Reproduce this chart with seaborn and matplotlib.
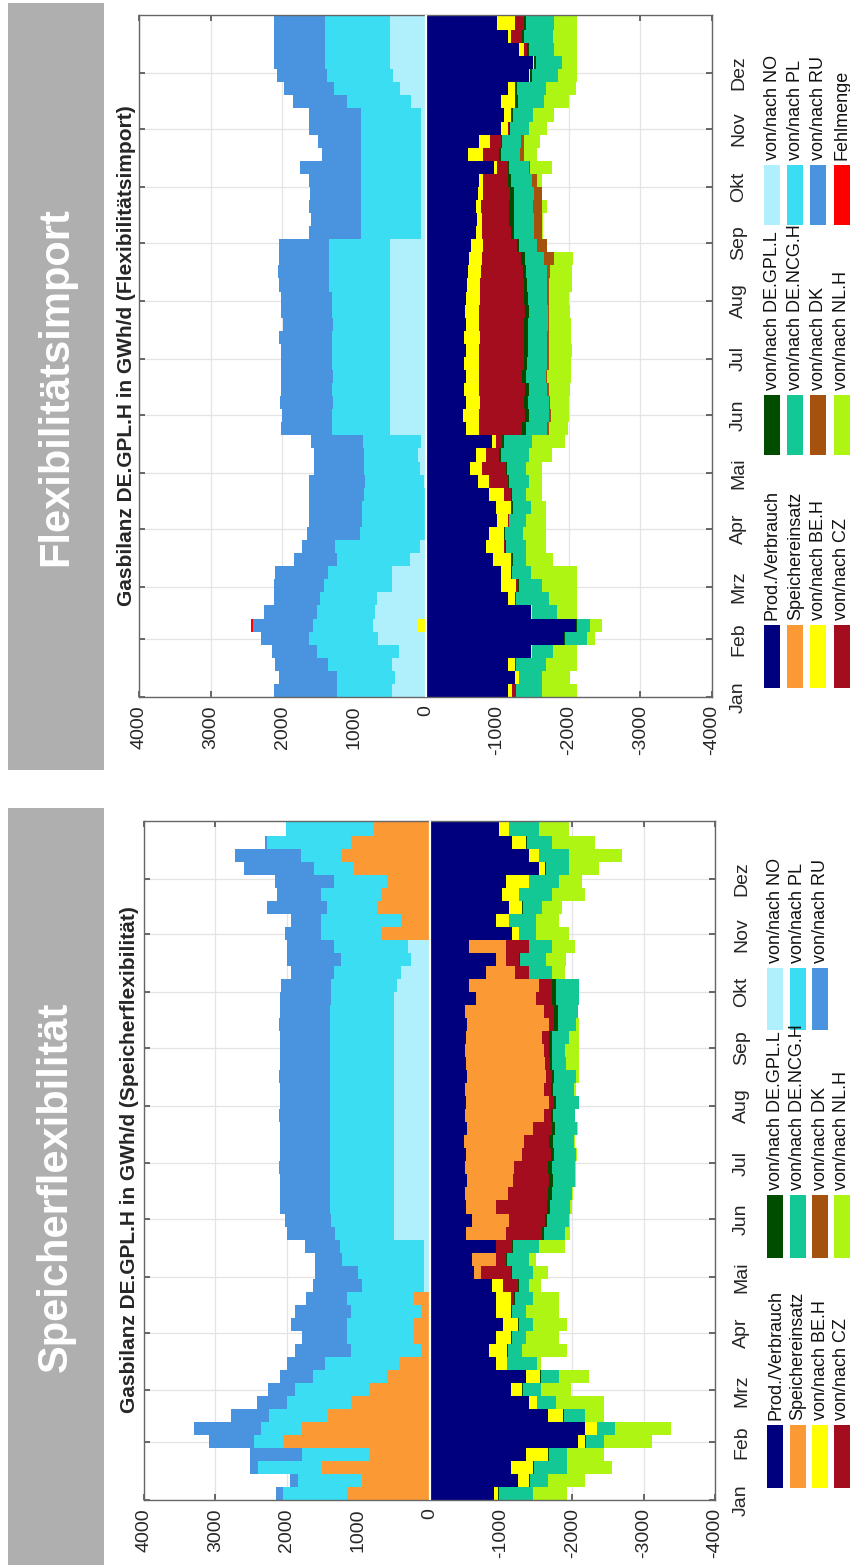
import numpy as np
import matplotlib
matplotlib.use("Agg")
import matplotlib.pyplot as plt
import seaborn as sns
from matplotlib.patches import Rectangle

# ---------------- data (weekly values, GWh/d) ----------------
month_days = [0, 31, 59, 90, 120, 151, 181, 212, 243, 273, 304, 334]
month_labels = ["Jan", "Feb", "Mrz", "Apr", "Mai", "Jun", "Jul", "Aug", "Sep", "Okt", "Nov", "Dez"]
value_ticks = [4000, 3000, 2000, 1000, 0, -1000, -2000, -3000, -4000]

legend_labels = ["Prod./Verbrauch", "Speichereinsatz", "von/nach BE.H", "von/nach CZ",
                 "von/nach DE.GPL.L", "von/nach DE.NCG.H", "von/nach DK", "von/nach NL.H",
                 "von/nach NO", "von/nach PL", "von/nach RU", "Fehlmenge"]
colors = ["#00007F", "#FB9934", "#FFFF00", "#A30D1E", "#004D00", "#14C896", "#A5520F",
          "#AEF514", "#B0F0FC", "#3ADDF2", "#4A93DE", "#FF0000"]

# --- Flexibilitaetsimport (upper panel) ---
imp_prod = [-1150, -1250, -1150, -1470, -1940, -2100, -1470, -1150, -1050, -1050,
            -940, -840, -890, -1000, -980, -890, -730, -620, -700, -930,
            -560, -520, -560, -540, -560, -540, -560, -540, -560, -550,
            -560, -580, -600, -610, -640, -700, -720, -700, -730, -740,
            -950, -600, -750, -1050, -1100, -1050, -1150, -1450, -1500, -1300, -1150, -1000]
imp_speicher = [0] * 52
imp_be = [-60, -50, -100, -10, 0, 100, -10, -100, -210, -150,
          -260, -260, -210, -150, -220, -210, -150, -170, -140, -50,
          -190, -220, -200, -200, -190, -200, -190, -220, -180, -200,
          -200, -180, -180, -180, -160, -90, -70, -80, -70, -60,
          -50, -200, -150, -100, -100, -200, -100, -10, -20, -80, -50, -250]
imp_cz = [-50, 0, -10, 0, 0, 0, 0, -10, -30, 0,
          -10, -10, 0, -10, -10, -100, -270, -330, -190, -90,
          -600, -650, -620, -650, -600, -630, -630, -620, -640, -640,
          -620, -610, -580, -550, -480, -410, -380, -380, -380, -350,
          -150, -230, -150, -10, -10, -20, -10, 0, 0, -40, -150, -130]
imp_gpll = [-10, -10, -10, -10, -10, -10, -10, -10, -10, -10,
            -10, -10, -10, -10, -10, -10, -10, -20, -20, -20,
            -50, -50, -50, -50, -50, -50, -50, -50, -50, -50,
            -50, -50, -50, -50, -30, -40, -60, -70, -50, -50,
            -10, -20, -20, -20, -10, -20, -20, -20, -20, -20, -20, -20]
imp_ncg = [-350, -310, -410, -290, -300, -190, -340, -460, -320, -260,
           -190, -290, -250, -230, -250, -200, -290, -260, -390, -400,
           -300, -290, -290, -260, -280, -280, -270, -270, -280, -270,
           -270, -280, -280, -270, -250, -270, -280, -270, -290, -280,
           -280, -270, -270, -270, -280, -360, -400, -370, -360, -360, -410, -400]
imp_dk = [0, 0, 0, 0, 0, 0, 0, 0, 0, 0,
          0, 0, 0, 0, 0, 0, 0, -10, 0, 0,
          -20, -20, -20, -20, -20, -20, -30, -20, -20, -20,
          -20, -20, -50, -140, -140, -120, -120, -120, -100, -80,
          -20, -60, -40, 0, 0, 0, 0, 0, 0, 0, 0, 0]
imp_nl = [-500, -400, -440, -340, -110, -160, -290, -390, -500, -650,
          -370, -270, -320, -280, -210, -220, -180, -220, -330, -460,
          -270, -250, -270, -300, -330, -310, -310, -310, -300, -290,
          -290, -320, -310, -260, 0, -10, -10, -80, -10, -60,
          -310, -170, -220, -250, -300, -350, -420, -260, -220, -320, -340, -320]
imp_no = [470, 420, 470, 370, 660, 630, 700, 680, 470, 470,
          210, 80, 0, 0, 0, 0, 20, 80, 100, 60,
          490, 490, 490, 490, 490, 490, 490, 490, 490, 490,
          490, 490, 490, 490, 490, 60, 60, 60, 60, 60,
          60, 60, 60, 60, 60, 200, 350, 450, 490, 490, 490, 490]
imp_pl = [760, 810, 890, 1150, 960, 840, 820, 790, 950, 890,
          1020, 1180, 920, 890, 890, 860, 820, 780, 760, 810,
          810, 820, 800, 810, 800, 820, 810, 810, 800, 810,
          810, 860, 860, 860, 860, 840, 840, 840, 840, 840,
          840, 840, 840, 840, 840, 900, 930, 920, 920, 920, 920, 920]
imp_ru = [890, 820, 740, 630, 680, 840, 730, 650, 700, 740,
          600, 470, 730, 730, 730, 760, 780, 700, 700, 730,
          720, 700, 740, 720, 730, 710, 720, 740, 700, 720,
          720, 700, 710, 690, 700, 720, 700, 720, 710, 720,
          850, 550, 600, 720, 720, 750, 690, 700, 700, 700, 700, 700]
imp_fehl = [0, 0, 0, 0, 0, 30] + [0] * 46

# --- Speicherflexibilitaet (lower panel) ---
sp_prod = [-900, -1240, -1140, -1350, -2080, -2180, -1660, -1400, -1140, -1350,
           -930, -830, -930, -1030, -930, -930, -880, -620, -600, -930,
           -510, -600, -510, -500, -520, -500, -510, -490, -520, -500,
           -510, -500, -520, -510, -500, -510, -520, -500, -650, -550,
           -790, -930, -550, -1160, -930, -1110, -1020, -1070, -1530, -1390, -1160, -970]
sp_speicher = [1160, 950, 1500, 850, 2050, 1790, 1420, 1100, 850, 590,
               430, 120, 220, 220, 120, 220, 0, -100, -330, 0,
               -560, -510, -420, -600, -650, -690, -790, -830, -930, -1110,
               -1160, -1110, -1110, -1110, -1110, -1070, -1160, -1110, -840, -980,
               -410, -140, -520, 680, 400, 730, 680, 590, 1060, 1240, 1100, 780]
sp_be = [-60, -160, -310, -310, -100, -160, -210, -100, -160, -200,
         -150, -260, -210, -210, -210, -210, -150, 0, 0, 0,
         0, 0, 0, 0, 0, 0, 0, 0, 0, 0,
         0, 0, 0, 0, 0, 0, 0, 0, 0, 0,
         0, 0, 0, -90, -180, -190, -230, -320, -90, -140, -190, -140]
sp_cz = [0, 0, 0, 0, 0, 0, 0, 0, 0, 0,
         0, 0, 0, 0, 0, -50, -210, -420, -140, -230,
         -510, -510, -720, -560, -510, -470, -400, -360, -260, -90,
         -70, -90, -90, -70, -70, -90, -70, -140, -230, -190,
         -190, -190, -320, 0, 0, 0, 0, 0, 0, 0, 0, 0]
sp_gpll = [-10] * 20 + [-20, -30, -40, -50, -50, -50, -45, -45, -50, -30,
                        -30, -25, -25, -30, -30, -50, -50, -50, -50, -50] + [-10] * 12
sp_ncg = [-480, -250, -460, -250, -250, -250, -300, -260, -250, -250,
          -410, -200, -200, -200, -200, -250, -150, -300, -320, -360,
          -300, -300, -280, -280, -310, -330, -305, -305, -305, -305,
          -320, -305, -305, -190, -190, -230, -250, -280, -330, -330,
          -320, -360, -320, -230, -370, -270, -460, -410, -320, -410, -360, -410]
sp_dk = [0] * 52
sp_nl = [-470, -520, -630, -520, -680, -780, -260, -680, -420, -420,
         -60, -620, -470, -470, -470, -370, -160, -210, -90, -370,
         -70, -20, -30, -20, -10, -10, -10, -10, -10, -10,
         0, -25, -45, -190, -190, -140, -50, 0, 0, 0,
         -180, -280, -320, -460, -320, -280, -460, -330, -420, -750, -600, -420]
sp_no = [0] * 16 + [80, 80, 80, 80] + [500] * 19 + [450, 400, 260, 300] + [0] * 9
sp_pl = [890, 890, 900, 940, 410, 570, 830, 890, 1040, 1040,
         1040, 980, 940, 940, 980, 940, 870, 920, 1140, 1170,
         830, 880, 900, 900, 900, 900, 900, 900, 900, 900,
         900, 900, 900, 900, 900, 900, 900, 900, 880, 930,
         935, 980, 1035, 840, 1120, 700, 840, 745, 560, 560, 1170, 1235]
sp_ru = [100, 110, 120, 720, 630, 940, 530, 420, 370, 470,
         520, 790, 630, 780, 790, 570, 680, 600, 380, 500,
         660, 650, 700, 700, 690, 710, 700, 690, 700, 710,
         700, 690, 710, 700, 700, 690, 710, 700, 720, 700,
         605, 750, 655, 510, 420, 840, 610, 835, 975, 930, 30, 0]

panel_import = [imp_prod, imp_speicher, imp_be, imp_cz, imp_gpll, imp_ncg, imp_dk,
                imp_nl, imp_no, imp_pl, imp_ru, imp_fehl]
panel_speicher = [sp_prod, sp_speicher, sp_be, sp_cz, sp_gpll, sp_ncg, sp_dk,
                  sp_nl, sp_no, sp_pl, sp_ru]

week_edges = np.append(np.arange(52) * 7, 365)

# ---------------- style ----------------
sns.set_theme(style="whitegrid")
plt.rcParams["font.family"] = ["Liberation Sans", "DejaVu Sans"]
plt.rcParams["axes.unicode_minus"] = False

W, H = 850, 1565
fig = plt.figure(figsize=(W / 100, H / 100), dpi=100)
fig.patch.set_facecolor("white")


def fx(px):
    return px / W


def fy(py):
    return 1 - py / H


def draw_panel(rect, series):
    l, t, r, b = rect
    ax = fig.add_axes([fx(l), fy(b), fx(r) - fx(l), fy(t) - fy(b)])
    pos = np.zeros(len(week_edges) - 1)
    neg = np.zeros(len(week_edges) - 1)
    for vals, col in zip(series, colors):
        v = np.asarray(vals, dtype=float)
        p = np.clip(v, 0, None)
        q = np.clip(v, None, 0)
        if np.any(p):
            lo, hi = pos.copy(), pos + p
            ax.fill_betweenx(week_edges, np.append(lo, lo[-1]), np.append(hi, hi[-1]),
                             step="post", color=col, lw=0, antialiased=False, zorder=2)
            pos = hi
        if np.any(q):
            lo, hi = neg.copy(), neg + q
            ax.fill_betweenx(week_edges, np.append(lo, lo[-1]), np.append(hi, hi[-1]),
                             step="post", color=col, lw=0, antialiased=False, zorder=2)
            neg = hi
    ax.axvline(0, color="white", lw=1.6, zorder=3)
    ax.set_xlim(4000, -4000)
    ax.set_ylim(0, 365)
    ax.set_xticks(value_ticks)
    ax.set_xticklabels([str(v) for v in value_ticks], rotation=90, fontsize=14)
    ax.set_yticks(month_days)
    ax.set_yticklabels(month_labels, rotation=90, fontsize=14, va="center")
    ax.yaxis.tick_right()
    ax.tick_params(axis="x", which="both", direction="in", length=4, top=True, bottom=True,
                   labelbottom=True, pad=6, color="#555555")
    ax.tick_params(axis="y", which="both", direction="in", length=4, left=True, right=True,
                   labelright=True, labelleft=False, pad=13, color="#555555")
    ax.grid(True, color="#E4E4E4", lw=0.9)
    ax.set_axisbelow(True)
    for s in ax.spines.values():
        s.set_color("#666666")
        s.set_linewidth(1.0)
    ax.set_facecolor("white")
    return ax


def banner(top, bottom, text):
    fig.add_artist(Rectangle((fx(8), fy(bottom)), fx(104) - fx(8), fy(top) - fy(bottom),
                             transform=fig.transFigure, color="#AFAFAF", lw=0, zorder=0))
    fig.text(fx(56), fy((top + bottom) / 2), text, rotation=90, color="white",
             fontsize=30, fontweight="bold", ha="center", va="center")


def legend(labels, row_x, col_y):
    for i, lab in enumerate(labels):
        c, r = divmod(i, 4)
        y0, y1 = col_y[c]
        xc = row_x[r]
        fig.add_artist(Rectangle((fx(xc - 8), fy(y1)), fx(16), fy(y0) - fy(y1),
                                 transform=fig.transFigure, color=colors[i], lw=0))
        fig.text(fx(xc + 0.5), fy(y0 - 5), lab, rotation=90, fontsize=13,
                 ha="center", va="bottom", color="#111111")


# upper panel
banner(3, 770, "Flexibilitätsimport")
draw_panel((139, 15, 712, 697), panel_import)
fig.text(fx(127), fy(356), "Gasbilanz DE.GPL.H in GWh/d (Flexibilitätsimport)",
         rotation=90, fontsize=15, fontweight="bold", ha="center", va="center")
legend(legend_labels, [772, 795, 818, 841.5], [(625, 688), (395, 455), (165, 225)])

# lower panel
banner(808, 1565, "Speicherflexibilität")
draw_panel((144, 821, 715, 1500), panel_speicher)
fig.text(fx(130), fy(1160), "Gasbilanz DE.GPL.H in GWh/d (Speicherflexibilität)",
         rotation=90, fontsize=15, fontweight="bold", ha="center", va="center")
legend(legend_labels[:11], [775, 797.5, 820, 841.5], [(1425, 1488), (1195, 1258), (968, 1030)])

fig.savefig("out.png", dpi=100, facecolor="white")
